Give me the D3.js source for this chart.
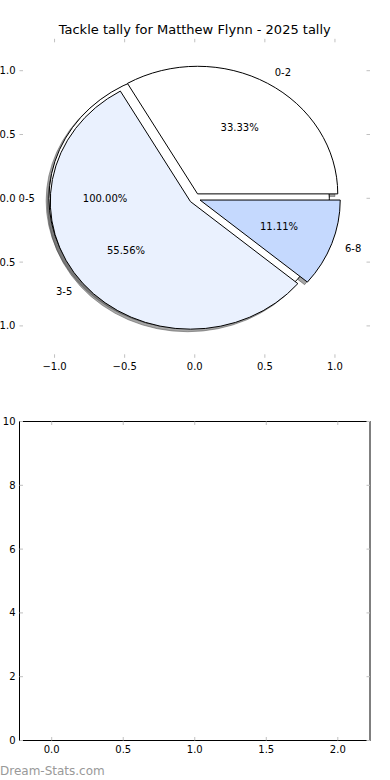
<!DOCTYPE html>
<html>
<head>
<meta charset="utf-8">
<script src="https://cdn.jsdelivr.net/npm/d3@7"></script>
<style>
body { margin: 0; background: #fff; }
svg { display: block; font-family: "DejaVu Sans", sans-serif; }
</style>
</head>
<body>
<svg id="chart" width="390" height="780"></svg>
<script>
// tally data
var pieLabels = ["0-2", "3-5", "6-8"];
var pieValues = [3, 5, 1];
var pieColors = ["#ffffff", "#eaf1fe", "#c5d9fe"];
var totalLabels = ["0-5"];
var totalValues = [9];
var totalColors = ["#ffffff"];
var pieTicks = [-1.0, -0.5, 0.0, 0.5, 1.0];
var barXTicks = [0.0, 0.5, 1.0, 1.5, 2.0];
var barYTicks = [0, 2, 4, 6, 8, 10];
var title = "Tackle tally for Matthew Flynn - 2025 tally";

var svg = d3.select("#chart");
var explode = 0.04;
var tickGrey = "#c0c0c0";

// pie axes (limits -1.25..1.25 like matplotlib)
var box = {left: 19.5, right: 370, top: 38.8, bottom: 357.8};
var x = d3.scaleLinear().domain([-1.25, 1.25]).range([box.left, box.right]);
var y = d3.scaleLinear().domain([-1.25, 1.25]).range([box.bottom, box.top]);
var kx = x(1) - x(0), ky = y(0) - y(1);

svg.append("text")
    .attr("x", (box.left + box.right) / 2)
    .attr("y", 34)
    .attr("text-anchor", "middle")
    .attr("font-size", "13px")
    .text(title);

// build wedges, angles counterclockwise from 3 o'clock
function wedges(vals, labs, cols) {
    var sum = d3.sum(vals);
    var out = [];
    var t = 0;
    vals.forEach(function (v, i) {
        var t2 = t + v / sum * 2 * Math.PI;
        var tm = (t + t2) / 2;
        out.push({
            label: labs[i], color: cols[i], t1: t, t2: t2, tm: tm,
            cx: explode * Math.cos(tm), cy: explode * Math.sin(tm),
            pct: (v / sum * 100).toFixed(2) + "%"
        });
        t = t2;
    });
    return out;
}
var all = wedges(totalValues, totalLabels, totalColors).concat(wedges(pieValues, pieLabels, pieColors));

var arc = d3.arc().innerRadius(0).outerRadius(1)
    .startAngle(function (d) { return Math.PI / 2 - d.t2; })
    .endAngle(function (d) { return Math.PI / 2 - d.t1; });

var pieG = svg.append("g");

// shadows first
pieG.selectAll("path.shadow").data(all).enter()
    .append("path")
    .attr("class", "shadow")
    .attr("transform", function (d) {
        return "translate(" + x(d.cx - 0.02) + "," + y(d.cy - 0.02) + ") scale(" + kx + "," + ky + ")";
    })
    .attr("d", arc)
    .attr("fill", "rgba(77,77,77,0.5)")
    .attr("stroke", "rgba(77,77,77,0.5)")
    .attr("stroke-width", 1)
    .attr("vector-effect", "non-scaling-stroke");

pieG.selectAll("path.wedge").data(all).enter()
    .append("path")
    .attr("class", "wedge")
    .attr("transform", function (d) {
        return "translate(" + x(d.cx) + "," + y(d.cy) + ") scale(" + kx + "," + ky + ")";
    })
    .attr("d", arc)
    .attr("fill", function (d) { return d.color; })
    .attr("stroke", "#000")
    .attr("stroke-width", 1)
    .attr("vector-effect", "non-scaling-stroke");

pieG.selectAll("text.lab").data(all).enter()
    .append("text")
    .attr("class", "lab")
    .attr("x", function (d) { return x(d.cx + 1.1 * Math.cos(d.tm)); })
    .attr("y", function (d) { return y(d.cy + 1.1 * Math.sin(d.tm)); })
    .attr("dy", "0.35em")
    .attr("text-anchor", function (d) { return Math.cos(d.tm) > 0 ? "start" : "end"; })
    .attr("font-size", "10px")
    .text(function (d) { return d.label; });

pieG.selectAll("text.pct").data(all).enter()
    .append("text")
    .attr("class", "pct")
    .attr("x", function (d) { return x(d.cx + 0.6 * Math.cos(d.tm)); })
    .attr("y", function (d) { return y(d.cy + 0.6 * Math.sin(d.tm)); })
    .attr("dy", "0.35em")
    .attr("text-anchor", "middle")
    .attr("font-size", "10px")
    .text(function (d) { return d.pct; });

// ticks on all four sides, labels left and bottom
function drawTicks(g, xs, ys, b, xt, yt, fmtX, fmtY, len) {
    xt.forEach(function (v) {
        g.append("line").attr("x1", xs(v)).attr("x2", xs(v)).attr("y1", b.bottom).attr("y2", b.bottom - len).attr("stroke", tickGrey);
        g.append("line").attr("x1", xs(v)).attr("x2", xs(v)).attr("y1", b.top).attr("y2", b.top + len).attr("stroke", tickGrey);
        g.append("text").attr("x", xs(v)).attr("y", b.bottom + 4).attr("dy", "0.8em")
            .attr("text-anchor", "middle").attr("font-size", "10px").text(fmtX(v));
    });
    yt.forEach(function (v) {
        g.append("line").attr("y1", ys(v)).attr("y2", ys(v)).attr("x1", b.left).attr("x2", b.left + len).attr("stroke", tickGrey);
        g.append("line").attr("y1", ys(v)).attr("y2", ys(v)).attr("x1", b.right).attr("x2", b.right - len).attr("stroke", tickGrey);
        g.append("text").attr("x", b.left - 4).attr("y", ys(v)).attr("dy", "0.35em")
            .attr("text-anchor", "end").attr("font-size", "10px").text(fmtY(v));
    });
}
var f1 = d3.format(".1f");
drawTicks(svg.append("g"), x, y, box, pieTicks, pieTicks, f1, f1, 3.5);

// empty bottom axes
var box2 = {left: 19.5, right: 370, top: 421.5, bottom: 740.5};
var x2 = d3.scaleLinear().domain([-0.225, 2.225]).range([box2.left, box2.right]);
var y2 = d3.scaleLinear().domain([0, 10]).range([box2.bottom, box2.top]);
var g2 = svg.append("g");
g2.append("rect")
    .attr("x", box2.left).attr("y", box2.top)
    .attr("width", box2.right - box2.left).attr("height", box2.bottom - box2.top)
    .attr("fill", "none").attr("stroke", "#000").attr("stroke-width", 1);
drawTicks(g2, x2, y2, box2, barXTicks, barYTicks, f1, d3.format("d"), 3.5);

svg.append("text")
    .attr("x", 0)
    .attr("y", 775)
    .attr("font-size", "12px")
    .attr("fill", "#999")
    .text("Dream-Stats.com");
</script>
</body>
</html>
